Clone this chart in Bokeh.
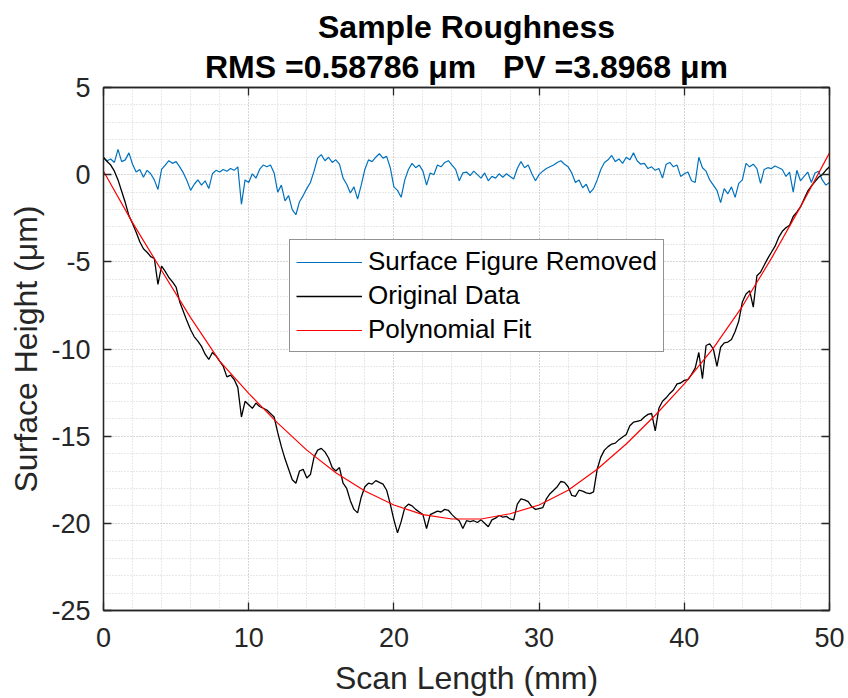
import numpy as np
from bokeh.plotting import figure
from bokeh.models import (Range1d, SingleIntervalTicker, LinearAxis, Title, Legend, LegendItem,
                          CustomLabelingPolicy)
from bokeh.embed import file_html
from bokeh.resources import INLINE

# ---------------- data ----------------
scan_x = np.linspace(0, 50, 201)  # scan positions, mm (0.25 mm step)

surface_removed = [
    0.95, 0.80, 0.90, 0.70, 1.45, 0.75, 0.85, 1.25, 0.60, 0.15, 0.30, -0.15, 0.25, 0.05, -0.30, -0.85, 0.30, 0.55, 0.80, 0.65,
    0.75, 0.45, 0.10, -0.35, -0.90, -0.55, -0.30, -0.60, -0.35, -0.80, 0.05, 0.25, 0.15, 0.30, 0.20, 0.35, 0.25, 0.45, -1.70, -0.30,
    -0.45, 0.05, -0.20, 0.30, 0.55, 0.45, 0.55, 0.10, -1.00, -0.60, -1.50, -1.20, -2.00, -2.30, -1.55, -1.20, -0.80, -0.45, 0.20, 0.95,
    1.15, 0.80, 1.00, 0.70, 0.85, 0.60, -0.20, -0.55, -1.05, -0.70, -1.40, -0.60, 0.30, 0.85, 0.75, 1.00, 1.20, 0.95, 1.05, 0.40,
    -0.70, -0.90, -1.30, -0.30, 0.30, 0.65, 0.40, 0.55, 0.20, -0.60, 0.10, 0.00, 0.55, 0.45, 0.70, 0.80, 0.55, 0.30, -0.35, 0.10,
    0.15, -0.05, 0.20, 0.00, -0.20, 0.10, -0.35, -0.10, -0.20, 0.05, -0.15, 0.05, -0.10, -0.25, 0.35, 0.75, 0.40, 0.55, 0.05, -0.35,
    0.00, 0.20, 0.35, 0.45, 0.55, 0.70, 0.80, 0.60, 0.45, 0.10, -0.45, -0.30, -0.75, -0.55, -1.05, -0.80, -0.30, 0.30, 0.70, 0.85,
    1.10, 0.75, 0.90, 0.65, 1.00, 0.85, 1.25, 0.80, 0.60, 0.65, 0.35, 0.45, 0.25, 0.35, -0.20, 0.60, 0.70, 0.45, 0.55, -0.10,
    0.05, 0.15, -0.35, -0.45, 1.00, 0.40, 0.20, -0.30, -0.60, -0.90, -1.60, -0.80, -1.10, -0.70, -1.30, -0.50, -0.30, 0.65, 0.45, 0.60,
    0.35, -0.50, 0.30, 0.40, 0.35, 0.50, 0.40, 0.30, -0.10, 0.15, -1.00, 0.25, -0.35, -0.10, 0.15, -0.45, 0.10, 0.20, -0.30, -0.60,
    -0.45,
]

original_data = [
    1.00, 0.75, 0.55, 0.20, -0.30, -0.95, -1.60, -2.35, -2.80, -3.30, -3.85, -4.25, -4.45, -4.70, -4.80, -6.30, -5.25, -5.55, -5.90, -6.15,
    -6.45, -7.30, -7.85, -8.40, -8.90, -9.30, -9.55, -9.85, -10.30, -10.60, -10.20, -10.40, -10.70, -11.00, -11.60, -11.50, -11.75, -12.20, -13.90, -13.00,
    -13.20, -13.40, -13.10, -13.30, -13.40, -13.50, -13.70, -13.90, -14.80, -15.60, -16.30, -16.90, -17.50, -17.70, -17.00, -16.90, -17.40, -17.20, -16.20, -15.80,
    -15.70, -15.90, -16.25, -16.80, -17.00, -16.80, -17.70, -18.00, -18.70, -19.20, -19.40, -18.50, -17.90, -17.70, -17.75, -17.55, -17.65, -17.75, -18.10, -18.90,
    -19.80, -20.55, -19.90, -19.10, -18.90, -19.00, -19.20, -19.35, -19.50, -20.30, -19.50, -19.40, -19.30, -19.35, -19.20, -19.25, -19.50, -19.70, -19.85, -20.30,
    -19.85, -19.90, -19.85, -19.95, -19.80, -20.00, -20.20, -19.80, -19.70, -19.55, -19.65, -19.60, -19.75, -19.80, -18.90, -18.60, -18.65, -18.75, -19.05, -19.20,
    -19.15, -19.10, -18.60, -18.30, -18.10, -17.90, -17.60, -17.65, -17.90, -18.40, -18.45, -18.10, -18.15, -18.25, -18.30, -18.20, -16.90, -16.20, -15.80, -15.60,
    -15.45, -15.40, -15.20, -15.05, -14.90, -14.40, -14.20, -14.15, -14.10, -13.90, -13.75, -13.70, -14.70, -13.40, -13.00, -12.80, -12.55, -12.35, -12.00, -11.95,
    -11.80, -11.75, -11.45, -11.10, -10.20, -11.70, -9.80, -9.70, -10.00, -11.00, -9.90, -9.65, -9.60, -9.45, -9.00, -8.40, -7.30, -6.85, -6.65, -7.60,
    -5.80, -5.60, -5.20, -4.80, -4.45, -4.10, -3.60, -3.25, -3.05, -2.90, -2.40, -2.15, -1.85, -1.40, -0.95, -0.65, -0.40, -0.15, 0.00, 0.25,
    0.45,
]

fit_x = [0, 2, 4, 6, 8, 10, 12, 14, 16, 18, 20, 22, 24, 26, 28, 30, 32, 34, 36, 38, 40, 42, 44, 46, 48, 50]
fit_y = [0.20, -2.75, -5.50, -8.20, -10.70, -12.55, -14.25, -15.80, -17.10, -18.15, -18.95, -19.50, -19.75,
         -19.75, -19.45, -18.95, -18.10, -16.90, -15.45, -13.80, -12.00, -9.95, -7.55, -4.80, -1.85, 1.25]

y_tick_values = [-25, -20, -15, -10, -5, 0, 5]
y_tick_labels = ["-25", "-20", "-15", "-10", "-5", "0", "5"]

title_line1 = "Sample Roughness"
title_line2 = "RMS =0.58786 \u03bcm\u00a0\u00a0\u00a0PV =3.8968 \u03bcm"
x_label = "Scan Length (mm)"
y_label = "Surface Height (\u03bcm)"
legend_labels = ["Surface Figure Removed", "Original Data", "Polynomial Fit"]

# ---------------- figure ----------------
FONT = "Liberation Sans"
AX = "#262626"

p = figure(width=848, height=698, output_backend="svg", toolbar_location=None,
           x_range=Range1d(0, 50), y_range=Range1d(-25, 5),
           min_border_left=103, min_border_right=19, min_border_top=87, min_border_bottom=86,
           background_fill_color="white", border_fill_color="white")

p.outline_line_color = AX
p.outline_line_width = 1.3

xt = SingleIntervalTicker(interval=10, num_minor_ticks=5)
yt = SingleIntervalTicker(interval=5, num_minor_ticks=5)
p.xaxis.ticker = xt
p.yaxis.ticker = yt
p.xgrid.ticker = xt
p.ygrid.ticker = yt

for g in (p.xgrid, p.ygrid):
    g.grid_line_color = "#c4c4c4"
    g.grid_line_dash = "1 2"
    g.grid_line_width = 1
    g.minor_grid_line_color = "#d0d0d0"
    g.minor_grid_line_dash = "1 2"
    g.minor_grid_line_width = 1

hide_labels = CustomLabelingPolicy(code="""
try { for (const i of Array.from(indices)) { indices.unset(i) } } catch (e) {}
return indices
""")

def style_axis(ax, show_labels=True):
    ax.axis_line_color = AX
    ax.axis_line_width = 1.3
    ax.major_tick_line_color = AX
    ax.major_tick_line_width = 1.3
    ax.major_tick_in = 8
    ax.major_tick_out = 0
    ax.minor_tick_in = 0
    ax.minor_tick_out = 0
    ax.major_label_text_font = FONT
    ax.major_label_text_color = AX
    ax.axis_label_text_font = FONT
    ax.axis_label_text_color = AX
    ax.axis_label_text_font_style = "normal"
    if show_labels:
        ax.major_label_text_font_size = "27px"
        ax.axis_label_text_font_size = "32px"
    else:
        ax.major_label_text_font_size = "0px"
        ax.major_label_standoff = 0
        ax.major_label_policy = hide_labels

style_axis(p.xaxis[0])
style_axis(p.yaxis[0])
p.xaxis.axis_label = x_label
p.yaxis.axis_label = y_label
p.xaxis.major_label_standoff = 17
p.xaxis.axis_label_standoff = 10
p.yaxis.major_label_standoff = 13
p.yaxis.axis_label_standoff = 4
p.yaxis.major_label_overrides = dict(zip(y_tick_values, y_tick_labels))

top_ax = LinearAxis(ticker=xt)
right_ax = LinearAxis(ticker=yt)
style_axis(top_ax, False)
style_axis(right_ax, False)
p.add_layout(top_ax, "above")
p.add_layout(right_ax, "right")

# titles (first added = closest to plot)
t2 = Title(text=title_line2, align="center", text_font=FONT, text_font_size="32px",
           text_font_style="bold", text_color="black", standoff=5)
t1 = Title(text=title_line1, align="center", text_font=FONT, text_font_size="32px",
           text_font_style="bold", text_color="black", standoff=0)
p.add_layout(t2, "above")
p.add_layout(t1, "above")

r_blue = p.line(scan_x, surface_removed, line_color="#0072BD", line_width=1.2)
r_black = p.line(scan_x, original_data, line_color="black", line_width=1.3)
r_red = p.line(fit_x, fit_y, line_color="#FF0000", line_width=1.2)

legend = Legend(items=[LegendItem(label=legend_labels[0], renderers=[r_blue]),
                       LegendItem(label=legend_labels[1], renderers=[r_black]),
                       LegendItem(label=legend_labels[2], renderers=[r_red])],
                location=(186, 258))
legend.label_text_font = FONT
legend.label_text_font_size = "26px"
legend.label_text_color = "black"
legend.glyph_width = 66
legend.glyph_height = 30
legend.label_height = 30
legend.spacing = 3
legend.padding = 6
legend.margin = 0
legend.label_standoff = 6
legend.border_line_color = AX
legend.border_line_width = 1.3
legend.background_fill_alpha = 1
p.add_layout(legend, "center")

open("out.html", "w").write(file_html(p, INLINE))
